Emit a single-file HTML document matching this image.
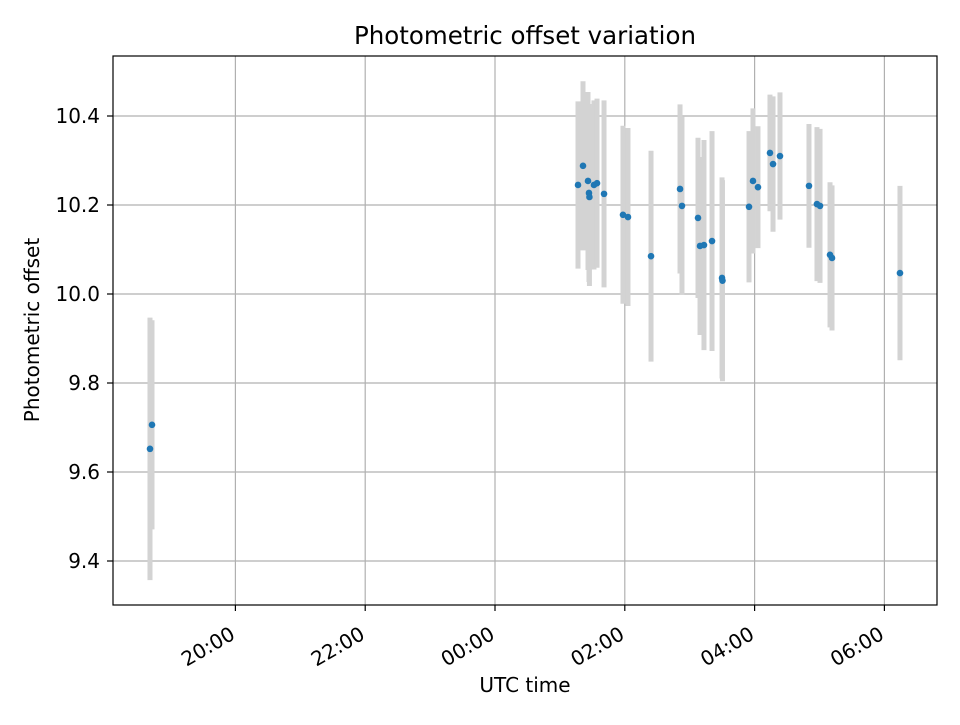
<!DOCTYPE html>
<html><head><meta charset="utf-8"><style>
body{margin:0;background:#fff;font-family:"Liberation Sans","DejaVu Sans",sans-serif}
svg text{font-family:"DejaVu Sans","Liberation Sans",sans-serif}
</style></head><body>
<svg id="chart" width="960" height="720" xmlns="http://www.w3.org/2000/svg">
<rect width="960" height="720" fill="#fff"/>
<g id="grid"></g>
<g id="bars"></g>
<g id="pts"></g>
<rect x="113" y="56" width="824" height="549" fill="none" stroke="#000" stroke-width="1.2"/>
<g id="ticks"></g>
<text x="525" y="44" text-anchor="middle" font-size="24.5">Photometric offset variation</text>
<text x="525" y="692" text-anchor="middle" font-size="20">UTC time</text>
<text transform="translate(39,330) rotate(-90)" text-anchor="middle" font-size="20">Photometric offset</text>
</svg>
<script>
const times=[-5.316,-5.285,1.279,1.356,1.433,1.448,1.455,1.525,1.572,1.680,1.972,2.049,2.404,2.851,2.881,3.128,3.159,3.220,3.344,3.498,3.505,3.914,3.975,4.052,4.237,4.284,4.391,4.838,4.961,5.008,5.162,5.193,6.240];
const values=[9.652,9.706,10.245,10.288,10.254,10.227,10.218,10.245,10.249,10.225,10.178,10.173,10.085,10.236,10.198,10.171,10.108,10.110,10.119,10.036,10.030,10.196,10.254,10.240,10.317,10.292,10.310,10.243,10.202,10.198,10.088,10.081,10.047];
const errors=[0.295,0.235,0.188,0.19,0.2,0.2,0.2,0.19,0.19,0.21,0.2,0.2,0.237,0.19,0.2,0.18,0.2,0.236,0.247,0.226,0.226,0.17,0.163,0.137,0.131,0.152,0.143,0.139,0.173,0.173,0.163,0.163,0.196];
const xTicks=[-4,-2,0,2,4,6];
const xTickLabels=["20:00","22:00","00:00","02:00","04:00","06:00"];
const yTicks=[9.4,9.6,9.8,10.0,10.2,10.4];
const yTickLabels=["9.4","9.6","9.8","10.0","10.2","10.4"];
const NS="http://www.w3.org/2000/svg";
const X=h=>495+h*64.9;
const Y=v=>294-(v-10)*445;
function mk(tag,attrs,parent){const e=document.createElementNS(NS,tag);for(const k in attrs)e.setAttribute(k,attrs[k]);parent.appendChild(e);return e;}
const grid=document.getElementById('grid'),ticks=document.getElementById('ticks'),bars=document.getElementById('bars'),pts=document.getElementById('pts');
xTicks.forEach((t,i)=>{
 const x=X(t);
 const g=mk('line',{x1:x,x2:x,y1:56,y2:605,stroke:'#b0b0b0','stroke-width':1.2},grid);
 
 
 const tk=mk('line',{x1:x,x2:x,y1:605,y2:611,stroke:'#000','stroke-width':1.2},ticks);
 
 
 const tx=mk('text',{'font-size':20,'text-anchor':'end',transform:`translate(${x+1},${638}) rotate(-30)`},ticks);
 tx.textContent=xTickLabels[i];
 
 
});
yTicks.forEach((t,i)=>{
 const y=Y(t);
 const g=mk('line',{x1:113,x2:937,y1:y,y2:y,stroke:'#b0b0b0','stroke-width':1.2},grid);
 
 
 const tk=mk('line',{x1:107,x2:113,y1:y,y2:y,stroke:'#000','stroke-width':1.2},ticks);
 
 
 const tx=mk('text',{x:100,y:y+7,'font-size':20,'text-anchor':'end'},ticks);
 tx.textContent=yTickLabels[i];
 
 
});
times.forEach((t,i)=>{
 const x=X(t);
 const b=mk('line',{x1:x,x2:x,y1:Y(values[i]+errors[i]),y2:Y(values[i]-errors[i]),stroke:'#d3d3d3','stroke-width':5},bars);
 
 
});
times.forEach((t,i)=>{
 const c=mk('circle',{cx:X(t),cy:Y(values[i]),r:3.3,fill:'#1f77b4'},pts);
 
 
});
</script>
</body></html>
